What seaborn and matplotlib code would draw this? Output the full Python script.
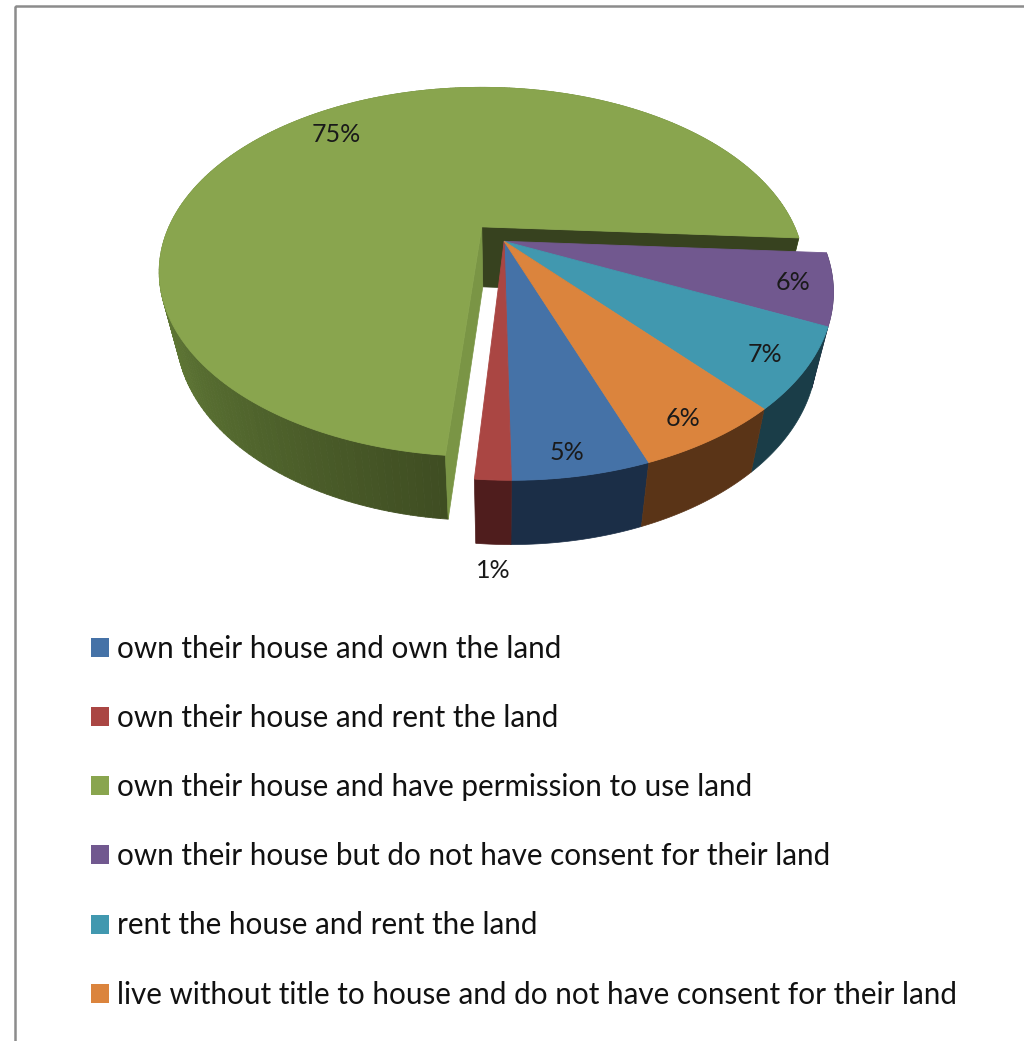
import numpy as np
import matplotlib
matplotlib.use("Agg")
import matplotlib.pyplot as plt
import seaborn as sns
from matplotlib.collections import PolyCollection
from matplotlib.patches import Patch, Polygon, Rectangle
from matplotlib.path import Path
from matplotlib.transforms import Affine2D, Transform

# ---- data ----
categories = [
    "own their house and own the land",
    "own their house and rent the land",
    "own their house and have permission to use land",
    "own their house but do not have consent for their land",
    "rent the house and rent the land",
    "live without title to house and do not have consent for their land",
]
values = [5.4, 1.4, 74.6, 6.0, 6.7, 5.9]
explode = [0, 0, 0.107, 0, 0, 0]
top_colors = ["#4572A7", "#AA4643", "#89A54E", "#71588F", "#4198AF", "#DB843D"]
rim_colors = ["#1B2E47", "#4F1D1D", "#4B5E2A", "#2F2440", "#1A3D48", "#5A3417"]
green_rim_shades = ["#6F8A3E", "#5F7735", "#4F632C", "#3F4D22"]
green_cut_back = "#37421F"
green_cut_front = "#7A9545"
label_xy = [(567, 452), (493, 571), (336, 134), (793, 282), (765, 354), (683, 419)]
order_label = [f"{v:.0f}%" for v in values]

sns.set_theme(style="white")
plt.rcParams["font.family"] = ["Lato", "DejaVu Sans"]

# perspective of the pie's plane
K, A, B = 0.245, 174.0, 314.0


class PlaneProjection(Transform):
    input_dims = 2
    output_dims = 2
    is_separable = False
    has_inverse = False

    def __init__(self, ox, oy, sx=1.0, sy=1.0):
        super().__init__()
        self.ox, self.oy, self.sx, self.sy = ox, oy, sx, sy

    def transform_non_affine(self, values):
        uv = np.asarray(values, float)
        w = 1 + K * uv[:, 1]
        return np.column_stack([
            self.ox + self.sx * B * uv[:, 0] / w,
            self.oy - self.sy * A * uv[:, 1] / w,
        ])

    def transform_path_non_affine(self, path):
        fine = path.transformed(Affine2D().scale(2000))
        verts = np.vstack(fine.to_polygons(closed_only=True)) / 2000
        return Path(self.transform_non_affine(verts), closed=True)


top_plane = PlaneProjection(482, 226)
bottom_plane = PlaneProjection(483, 286, sx=0.95, sy=1.017)

fig = plt.figure(figsize=(10.24, 10.41), dpi=100, facecolor="white")
ax = fig.add_axes([0, 0, 1, 1])

wedges, _ = ax.pie(values, explode=explode, center=(0.069, -0.086), radius=1.0,
                   startangle=289.44, counterclock=False, colors=top_colors,
                   wedgeprops=dict(linewidth=0), frame=False)
ax.set_aspect("auto")
ax.set_xlim(0, 1024)
ax.set_ylim(1041, 0)
ax.axis("off")


def arc(w, thetas):
    t = np.radians(thetas)
    return np.column_stack([w.center[0] + w.r * np.cos(t), w.center[1] + w.r * np.sin(t)])


green = wedges[2]
green.set_radius(0.995)
cen = np.array([green.center])

# exploded slice: rim, cut walls, top
span = np.linspace(green.theta1, green.theta2, 241)
pts = arc(green, span)
t_pts, b_pts = top_plane.transform_non_affine(pts), bottom_plane.transform_non_affine(pts)
pal = sns.blend_palette(green_rim_shades, 100)
faces = [pal[int(np.clip((th - 175) / (green.theta2 - 175), 0, 0.999) * 100)] for th in span[:-1]]
quads = [np.array([t_pts[i], t_pts[i + 1], b_pts[i + 1], b_pts[i]]) for i in range(len(faces))]
ax.add_collection(PolyCollection(quads, facecolors=faces, edgecolors=faces, linewidths=0.6, zorder=2))

for theta, colour in ((green.theta1, green_cut_back), (green.theta2, green_cut_front)):
    edge = arc(green, [theta])
    poly = np.vstack([top_plane.transform_non_affine(cen), top_plane.transform_non_affine(edge),
                      bottom_plane.transform_non_affine(edge), bottom_plane.transform_non_affine(cen)])
    ax.add_patch(Polygon(poly, closed=True, fc=colour, ec=colour, lw=0.5, zorder=2.5))

# the other slices sit in front
for w, c in zip(wedges, rim_colors):
    w.set_transform(top_plane + ax.transData)
    w.set_edgecolor(w.get_facecolor())
    w.set_linewidth(0.6)
    if w is green:
        w.set_zorder(3)
        continue
    w.set_radius(0.99)
    w.set_zorder(5)
    p = arc(w, np.linspace(w.theta1, w.theta2, 60))
    outline = np.vstack([top_plane.transform_non_affine(p), bottom_plane.transform_non_affine(p)[::-1]])
    ax.add_patch(Polygon(outline, closed=True, fc=c, ec=c, lw=0.5, zorder=4))

for (x, y), s in zip(label_xy, order_label):
    ax.text(x, y, s, ha="center", va="center", fontsize=18, color="#1A1A1A", zorder=6)

# frame of the original screenshot
ax.add_patch(Rectangle((15, 6), 1200, 1200, fc="none", ec="#8C8C8C", lw=1.8, zorder=1))

handles = [Patch(fc=c, ec="none") for c in top_colors]
fs = 21.3
ax.legend(handles, categories, loc="upper left", bbox_to_anchor=(91, 635),
          bbox_transform=ax.transData, frameon=False, fontsize=fs, ncol=1,
          handlelength=0.61, handleheight=0.61, handletextpad=0.27, labelspacing=1.39,
          borderpad=0, borderaxespad=0, labelcolor="#111111")

fig.savefig("out.png", dpi=100, facecolor="white")
